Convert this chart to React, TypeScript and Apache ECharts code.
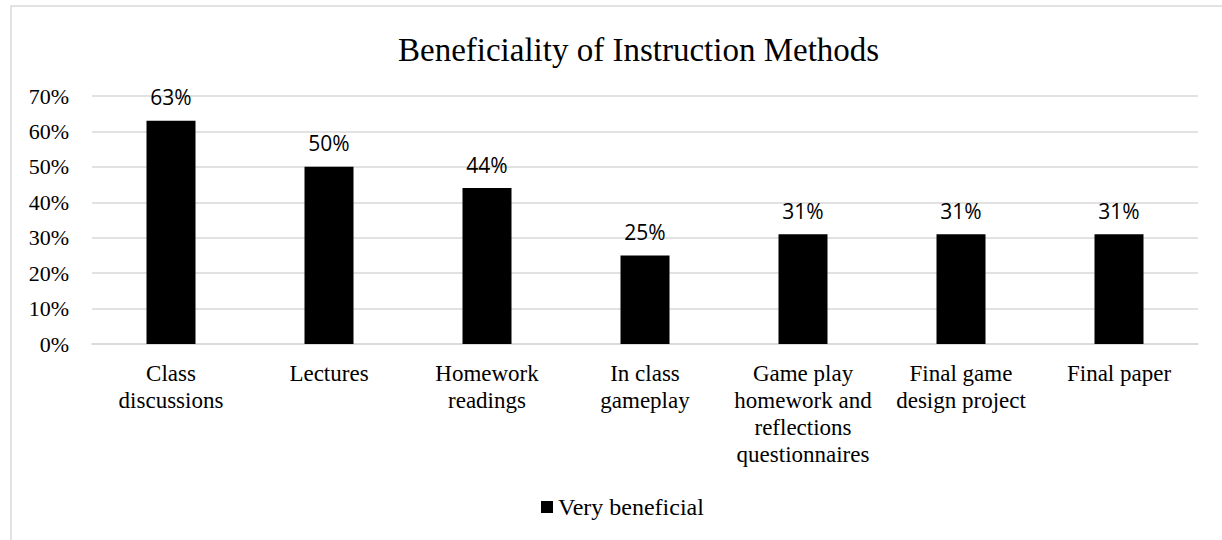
import React, { useEffect, useRef } from "react";
import * as echarts from "echarts";

// Instruction methods and the share of students rating each "very beneficial"
const categories: string[] = [
  "Class\ndiscussions",
  "Lectures",
  "Homework\nreadings",
  "In class\ngameplay",
  "Game play\nhomework and\nreflections\nquestionnaires",
  "Final game\ndesign project",
  "Final paper",
];
const veryBeneficial: number[] = [63, 50, 44, 25, 31, 31, 31];
const seriesName = "Very beneficial";
const chartTitle = "Beneficiality of Instruction Methods";

const SERIF = "'Liberation Serif', 'Times New Roman', serif";
const SANS = "'Open Sans', 'Liberation Sans', sans-serif";
const GRID_GRAY = "#d9d9d9";

export default function App() {
  const ref = useRef<HTMLDivElement>(null);

  useEffect(() => {
    if (!ref.current) return;
    const chart = echarts.init(ref.current, null, { renderer: "svg" });
    chart.setOption({
      animation: false,
      backgroundColor: "#ffffff",
      title: {
        text: chartTitle,
        left: 398,
        top: 33,
        padding: 0,
        textStyle: {
          fontFamily: SERIF,
          fontSize: 33,
          fontWeight: "normal",
          color: "#000000",
        },
      },
      legend: {
        data: [seriesName],
        left: 541,
        top: 495,
        padding: 0,
        icon: "rect",
        itemWidth: 12,
        itemHeight: 12,
        itemGap: 5,
        textStyle: {
          fontFamily: SERIF,
          fontSize: 24,
          color: "#000000",
        },
      },
      graphic: [
        {
          type: "rect",
          shape: { x: 11, y: 6, width: 1400, height: 800 },
          style: { fill: "none", stroke: GRID_GRAY, lineWidth: 1.5 },
          silent: true,
        },
      ],
      grid: {
        left: 92,
        right: 24,
        top: 96,
        bottom: 196,
        containLabel: false,
      },
      xAxis: {
        type: "category",
        data: categories,
        axisTick: { show: false },
        axisLine: { lineStyle: { color: GRID_GRAY, width: 1.5 } },
        axisLabel: {
          interval: 0,
          margin: 16,
          fontFamily: SERIF,
          fontSize: 23,
          lineHeight: 27,
          color: "#000000",
          align: "center",
        },
      },
      yAxis: {
        type: "value",
        min: 0,
        max: 70,
        interval: 10,
        axisLine: { show: false },
        axisTick: { show: false },
        splitLine: { lineStyle: { color: GRID_GRAY, width: 1.5 } },
        axisLabel: {
          margin: 23,
          fontFamily: SERIF,
          fontSize: 22,
          color: "#000000",
          formatter: "{value}%",
        },
      },
      series: [
        {
          name: seriesName,
          type: "bar",
          data: veryBeneficial,
          barWidth: 49,
          itemStyle: { color: "#000000" },
          label: {
            show: true,
            position: "top",
            distance: 13,
            fontFamily: SANS,
            fontSize: 21,
            color: "#000000",
            formatter: "{c}%",
          },
        },
      ],
    });
    return () => chart.dispose();
  }, []);

  return (
    <div
      ref={ref}
      style={{ position: "fixed", left: 0, top: 0, width: 1222, height: 540 }}
    />
  );
}
